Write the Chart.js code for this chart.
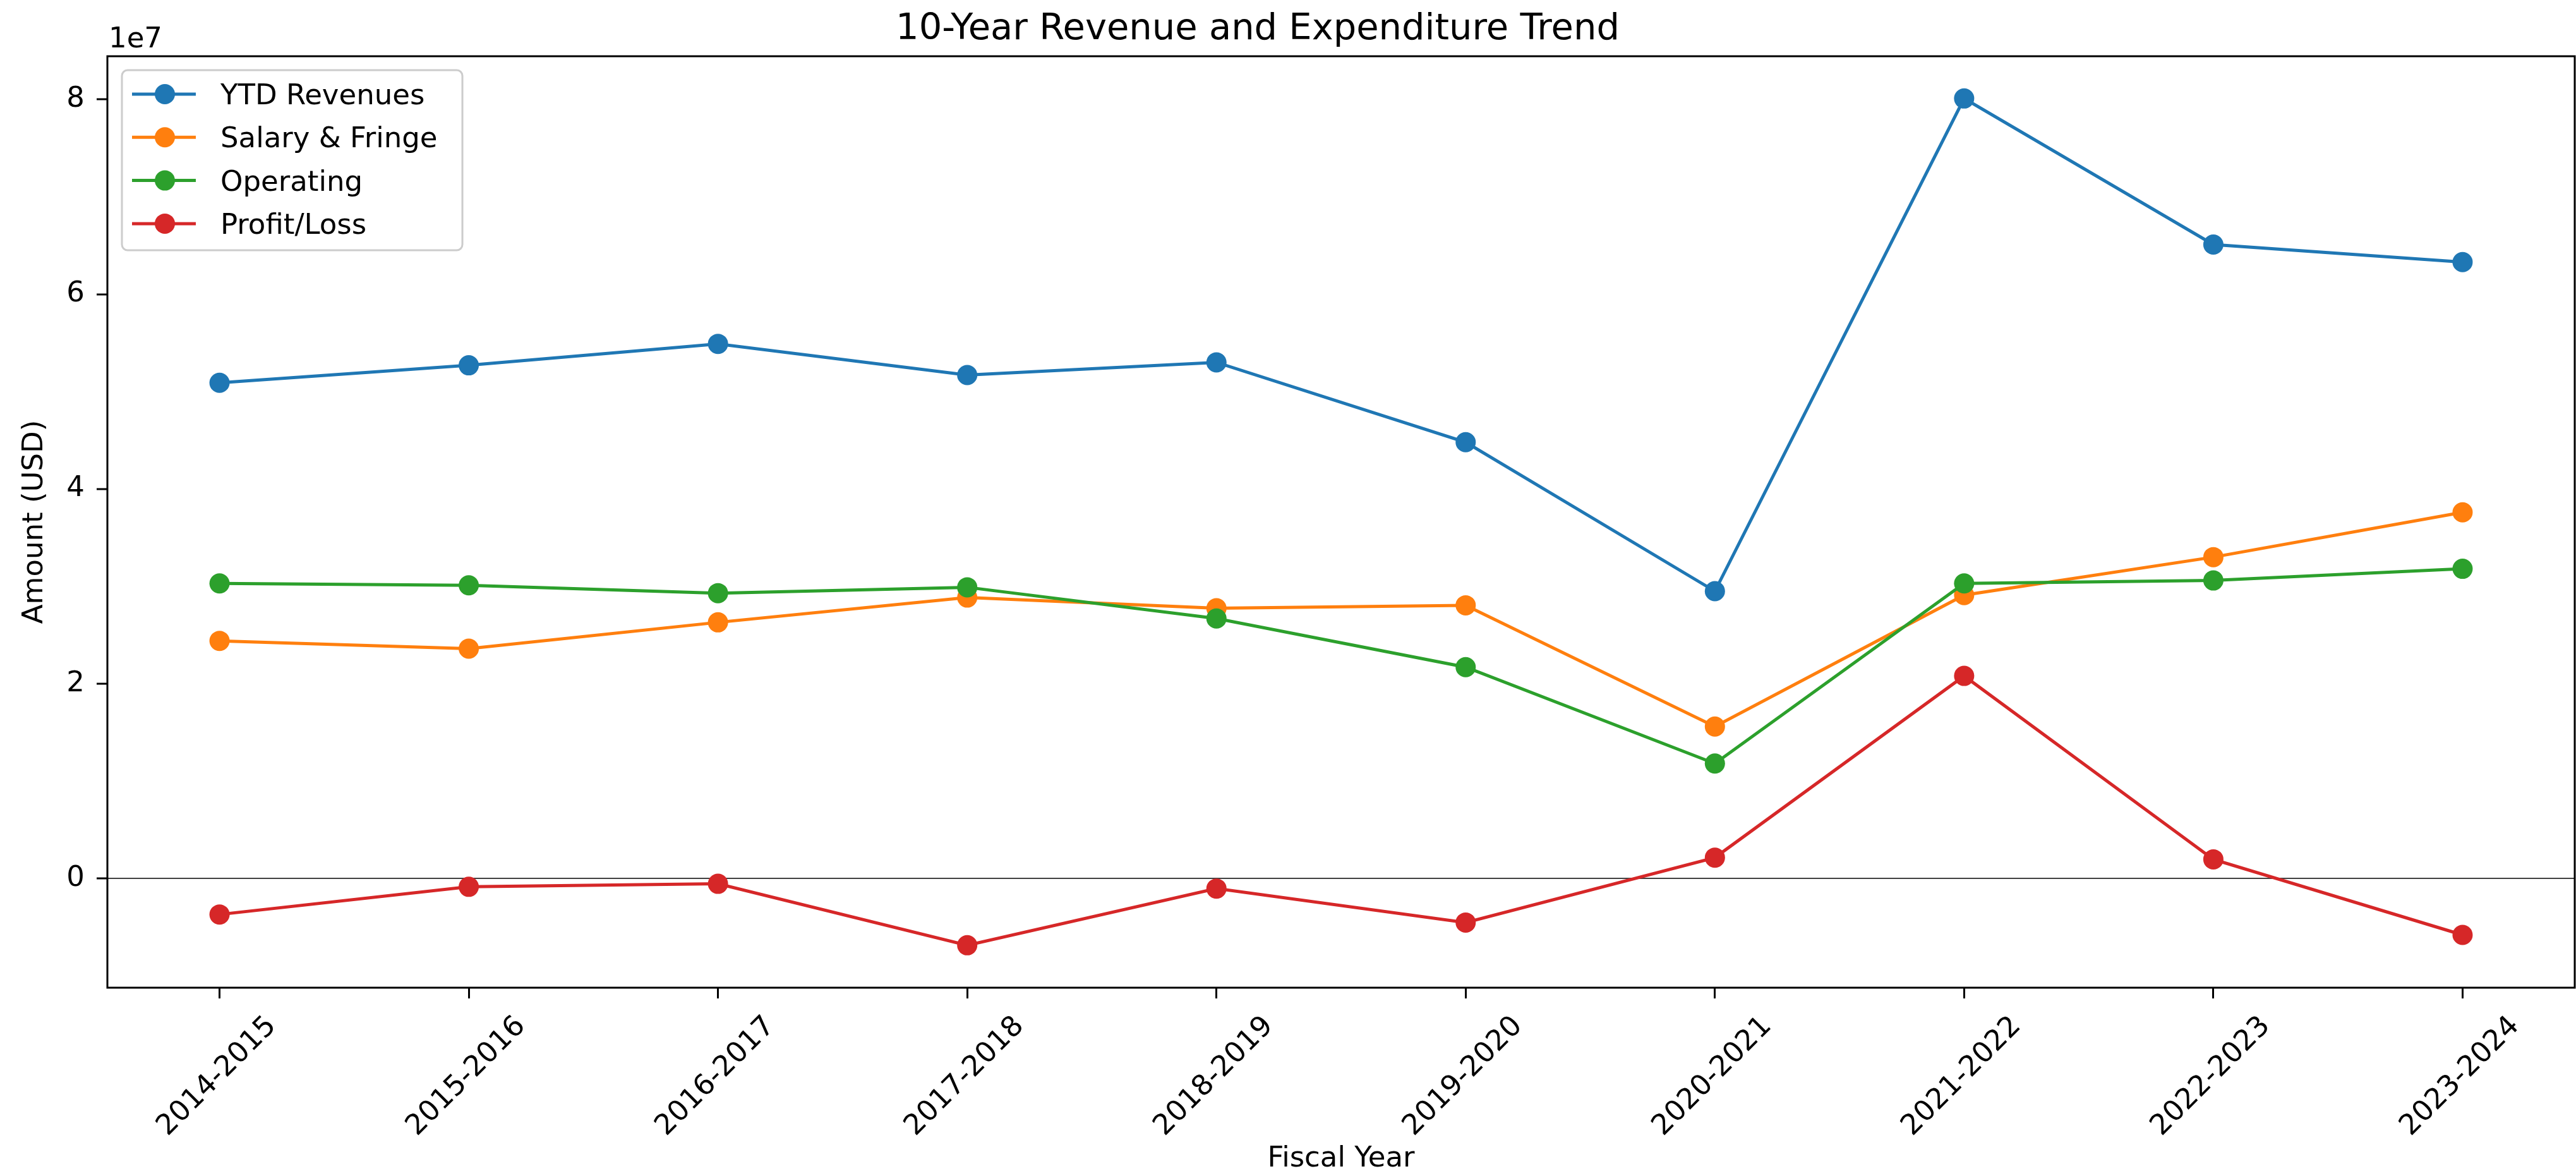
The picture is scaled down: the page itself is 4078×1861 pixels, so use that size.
<!DOCTYPE html>
<html>
<head>
<meta charset="utf-8">
<script src="https://cdn.jsdelivr.net/npm/chart.js@4.4.1/dist/chart.umd.min.js"></script>
<style>
  html, body { margin: 0; padding: 0; background: #ffffff; overflow: hidden; }
  #wrap { width: 4078px; height: 1861px; position: relative; }
  #c { display: block; }
</style>
</head>
<body>
<div id="wrap"><canvas id="c" width="4078" height="1861"></canvas></div>
<script>
// ---- data ----
const categories = ['2014-2015', '2015-2016', '2016-2017', '2017-2018', '2018-2019',
                    '2019-2020', '2020-2021', '2021-2022', '2022-2023', '2023-2024'];
const ytdRevenues   = [50900000, 52700000, 54900000, 51700000, 53000000, 44800000, 29500000, 80100000, 65100000, 63300000];
const salaryFringe  = [24400000, 23600000, 26300000, 28850000, 27750000, 28050000, 15600000, 29100000, 33000000, 37600000];
const operating     = [30300000, 30100000, 29300000, 29900000, 26700000, 21700000, 11800000, 30300000, 30600000, 31800000];
const profitLoss    = [-3700000, -860000, -550000, -6860000, -1040000, -4530000, 2140000, 20800000, 1960000, -5800000];
const yTickValues   = [0, 20000000, 40000000, 60000000, 80000000];
const seriesNames   = ['YTD Revenues', 'Salary & Fringe', 'Operating', 'Profit/Loss'];
const seriesColors  = ['#1f77b4', '#ff7f0e', '#2ca02c', '#d62728'];
const titleText     = '10-Year Revenue and Expenditure Trend';
const xAxisTitle    = 'Fiscal Year';
const yAxisTitle    = 'Amount (USD)';
const offsetText    = '1e7';

const FONT = '"DejaVu Sans", "Liberation Sans", sans-serif';
const seriesValues = [ytdRevenues, salaryFringe, operating, profitLoss];

const datasets = seriesValues.map((vals, i) => ({
  label: seriesNames[i],
  data: vals.map((v, j) => ({ x: j, y: v })),
  borderColor: seriesColors[i],
  backgroundColor: seriesColors[i],
  pointBackgroundColor: seriesColors[i],
  pointBorderColor: seriesColors[i],
  pointBorderWidth: 0,
  pointRadius: 16,
  pointHoverRadius: 16,
  borderWidth: 5,
  tension: 0,
  fill: false,
  order: seriesValues.length - i
}));

const decorPlugin = {
  id: 'decor',
  beforeDraw(chart) {
    const ctx = chart.ctx;
    ctx.save();
    ctx.fillStyle = '#ffffff';
    ctx.fillRect(0, 0, chart.width, chart.height);
    ctx.restore();
  },
  afterDraw(chart) {
    const ctx = chart.ctx;
    const a = chart.chartArea;
    ctx.save();
    // axes frame
    ctx.strokeStyle = '#000000';
    ctx.lineWidth = 3;
    ctx.strokeRect(a.left, a.top, a.right - a.left, a.bottom - a.top);

    // title
    ctx.fillStyle = '#000000';
    ctx.font = '57.5px ' + FONT;
    ctx.textAlign = 'center';
    ctx.textBaseline = 'alphabetic';
    ctx.fillText(titleText, 1991, 62);

    // offset text
    ctx.font = '45px ' + FONT;
    ctx.textAlign = 'left';
    ctx.fillText(offsetText, a.left + 2, 75);

    // legend
    const lx = a.left + 23, ly = a.top + 22, lw = 539, lh = 285, r = 9;
    ctx.beginPath();
    ctx.moveTo(lx + r, ly);
    ctx.lineTo(lx + lw - r, ly);
    ctx.arcTo(lx + lw, ly, lx + lw, ly + r, r);
    ctx.lineTo(lx + lw, ly + lh - r);
    ctx.arcTo(lx + lw, ly + lh, lx + lw - r, ly + lh, r);
    ctx.lineTo(lx + r, ly + lh);
    ctx.arcTo(lx, ly + lh, lx, ly + lh - r, r);
    ctx.lineTo(lx, ly + r);
    ctx.arcTo(lx, ly, lx + r, ly, r);
    ctx.closePath();
    ctx.fillStyle = 'rgba(255,255,255,0.8)';
    ctx.fill();
    ctx.strokeStyle = '#cccccc';
    ctx.lineWidth = 3;
    ctx.stroke();

    seriesNames.forEach((name, i) => {
      const cy = ly + 38 + i * 68.3;
      ctx.strokeStyle = seriesColors[i];
      ctx.lineWidth = 5;
      ctx.beginPath();
      ctx.moveTo(lx + 16, cy);
      ctx.lineTo(lx + 117, cy);
      ctx.stroke();
      ctx.fillStyle = seriesColors[i];
      ctx.beginPath();
      ctx.arc(lx + 68, cy, 16, 0, Math.PI * 2);
      ctx.fill();
      ctx.fillStyle = '#000000';
      ctx.font = '45px ' + FONT;
      ctx.textAlign = 'left';
      ctx.textBaseline = 'alphabetic';
      ctx.fillText(name, lx + 156, cy + 16);
    });
    ctx.restore();
  }
};

new Chart(document.getElementById('c'), {
  type: 'line',
  data: { datasets },
  plugins: [decorPlugin],
  options: {
    responsive: false,
    devicePixelRatio: 1,
    animation: false,
    events: [],
    layout: { autoPadding: false, padding: { top: 89, right: 2, bottom: 0, left: 0 } },
    plugins: {
      legend: { display: false },
      title: { display: false },
      tooltip: { enabled: false }
    },
    scales: {
      x: {
        type: 'linear',
        min: -0.45,
        max: 9.45,
        afterBuildTicks: (scale) => { scale.ticks = categories.map((c, i) => ({ value: i })); },
        afterFit: (scale) => {
          scale.height = 298;
          scale.paddingLeft = 0;
          scale.paddingRight = 0;
        },
        border: { display: false },
        grid: { drawOnChartArea: false, drawTicks: true, tickLength: 17, tickWidth: 3, tickColor: '#000000' },
        ticks: {
          autoSkip: false,
          maxRotation: 45,
          minRotation: 45,
          padding: 18,
          labelOffset: 83,
          color: '#000000',
          font: { family: FONT, size: 45, lineHeight: 1.2 },
          callback: (value) => categories[Math.round(value)]
        },
        title: {
          display: true,
          text: xAxisTitle,
          color: '#000000',
          font: { family: FONT, size: 45, lineHeight: 1.2 },
          padding: { top: 0, bottom: 0 }
        }
      },
      y: {
        type: 'linear',
        min: -11220000,
        max: 84440000,
        afterBuildTicks: (scale) => { scale.ticks = yTickValues.map(v => ({ value: v })); },
        afterFit: (scale) => {
          scale.width = 170;
          scale.paddingTop = 0;
          scale.paddingBottom = 0;
        },
        border: { display: false },
        grid: {
          drawOnChartArea: true,
          drawTicks: true,
          tickLength: 17,
          tickWidth: 3,
          tickColor: '#000000',
          lineWidth: 2,
          color: (c) => (c.tick && c.tick.value === 0) ? 'rgba(0,0,0,0.75)' : 'rgba(0,0,0,0)'
        },
        ticks: {
          padding: 19,
          color: '#000000',
          font: { family: FONT, size: 45, lineHeight: 1.2 },
          callback: (value) => String(Math.round(value / 1e7))
        },
        title: {
          display: true,
          text: yAxisTitle,
          color: '#000000',
          font: { family: FONT, size: 45, lineHeight: 1.2 },
          padding: { top: 28, bottom: 0 }
        }
      }
    }
  }
});
</script>
</body>
</html>
